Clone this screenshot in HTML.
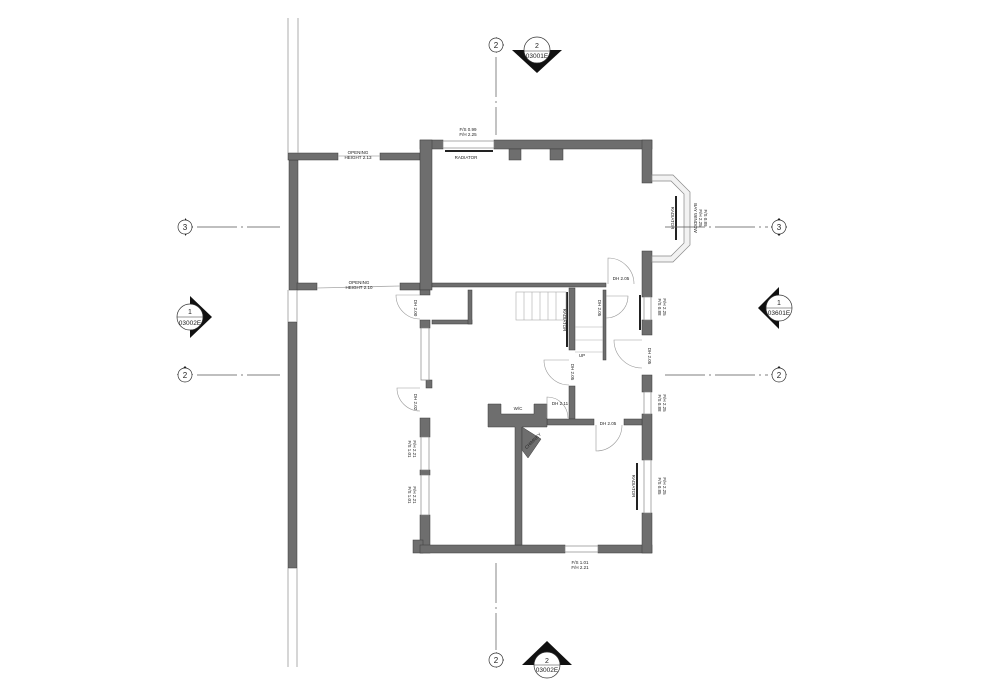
<!DOCTYPE html>
<html><head><meta charset="utf-8"><style>
html,body{margin:0;padding:0;background:#fff;width:1000px;height:690px;overflow:hidden}
svg{display:block}
text{font-family:"Liberation Sans",sans-serif;fill:#222}
</style></head><body>
<svg width="1000" height="690" viewBox="0 0 1000 690" xmlns="http://www.w3.org/2000/svg">
<g fill="#6e6e6e" stroke="#3a3a3a" stroke-width="0.5">
<rect x="289" y="160" width="9" height="130"/>
<rect x="288" y="322" width="9" height="246"/>
<rect x="288" y="153" width="50" height="7"/>
<rect x="380" y="153" width="40" height="7"/>
<rect x="297" y="283" width="20" height="7"/>
<rect x="400" y="283" width="20" height="7"/>
<rect x="420" y="140" width="23" height="9"/>
<rect x="494" y="140" width="158" height="9"/>
<rect x="420" y="140" width="12" height="150"/>
<rect x="509" y="149" width="12" height="11"/>
<rect x="550" y="149" width="13" height="11"/>
<rect x="642" y="140" width="10" height="43"/>
<rect x="642" y="251" width="10" height="46"/>
<rect x="432" y="283" width="174" height="4"/>
<rect x="420" y="290" width="10" height="5"/>
<rect x="420" y="320" width="10" height="8"/>
<rect x="426" y="380" width="6" height="8"/>
<rect x="420" y="418" width="10" height="19"/>
<rect x="420" y="470" width="10" height="5"/>
<rect x="420" y="515" width="10" height="38"/>
<rect x="413" y="540" width="10" height="13"/>
<rect x="420" y="545" width="145" height="8"/>
<rect x="598" y="545" width="54" height="8"/>
<rect x="642" y="320" width="10" height="15"/>
<rect x="642" y="375" width="10" height="17"/>
<rect x="642" y="414" width="10" height="46"/>
<rect x="642" y="513" width="10" height="40"/>
<rect x="432" y="320" width="40" height="4"/>
<rect x="468" y="290" width="4" height="34"/>
<rect x="569" y="288" width="6" height="62"/>
<rect x="569" y="386" width="6" height="33"/>
<rect x="603" y="290" width="3" height="70"/>
<rect x="547" y="419" width="47" height="6"/>
<rect x="624" y="419" width="18" height="6"/>
<path d="M488 404 H501 V414 H534 V404 H547 V427 H522 V545 H515 V427 H488 Z"/>
<path d="M522 427 L541 439 L528 458 L522 450 Z"/>
</g>
<g stroke="#999" stroke-width="0.8" fill="none">
<line x1="288" y1="18" x2="288" y2="153"/><line x1="298" y1="18" x2="298" y2="153"/>
<line x1="288" y1="290" x2="288" y2="322"/><line x1="297" y1="290" x2="297" y2="322"/>
<line x1="288" y1="568" x2="288" y2="667"/><line x1="297" y1="568" x2="297" y2="667"/>
<line x1="317" y1="288" x2="400" y2="286" stroke="#aaa"/>
<line x1="338" y1="156" x2="380" y2="156" stroke="#aaa"/>
</g>
<g fill="#fff" stroke="#888" stroke-width="0.7">
<rect x="443" y="141" width="51" height="7"/>
<rect x="565" y="546" width="33" height="6"/>
<rect x="421" y="328" width="8" height="52"/>
<rect x="421" y="437" width="8" height="33"/>
<rect x="421" y="475" width="8" height="40"/>
<rect x="644" y="297" width="7" height="23"/>
<rect x="644" y="392" width="7" height="22"/>
<rect x="644" y="460" width="7" height="53"/>
<path d="M652 175 H673 L690 192 V245 L673 262 H652 V256 H671 L684 243 V194 L671 181 H652 Z" fill="#f2f2f2"/>
</g>
<g fill="#222">
<rect x="445" y="150" width="48" height="2"/>
<rect x="675" y="196" width="2" height="44"/>
<rect x="566" y="292" width="2" height="55"/>
<rect x="636" y="463" width="2" height="47"/>
<rect x="639" y="295" width="2" height="35"/>
</g>
<g stroke="#aaa" stroke-width="0.6" fill="none">
<rect x="516" y="292" width="50" height="28"/>
<line x1="524" y1="292" x2="524" y2="320"/><line x1="532" y1="292" x2="532" y2="320"/>
<line x1="540" y1="292" x2="540" y2="320"/><line x1="548" y1="292" x2="548" y2="320"/><line x1="556" y1="292" x2="556" y2="320"/>
<line x1="575" y1="327" x2="603" y2="327"/><line x1="575" y1="340" x2="603" y2="340"/><line x1="575" y1="352" x2="603" y2="352"/>
</g>
<g stroke="#999" stroke-width="0.6" fill="none">
<path d="M608 284 V258 A26 26 0 0 1 634 284"/>
<path d="M420 295 H396 A24 24 0 0 0 420 319"/>
<path d="M420 388 H397 A23 23 0 0 0 420 411"/>
<path d="M606 296 H628 A22 22 0 0 1 606 318"/>
<path d="M642 340 H614 A28 28 0 0 0 642 368"/>
<path d="M569 360 H544 A25 25 0 0 0 569 385"/>
<path d="M547 418 V397 A21 21 0 0 1 568 418"/>
<path d="M596 425 V451 A26 26 0 0 0 622 425"/>
</g>
<g stroke="#555" stroke-width="0.7" stroke-dasharray="40 4 2 4">
<line x1="197" y1="227" x2="280" y2="227"/>
<line x1="665" y1="227" x2="768" y2="227"/>
<line x1="197" y1="375" x2="280" y2="375"/>
<line x1="665" y1="375" x2="768" y2="375"/>
<line x1="496" y1="57" x2="496" y2="135"/>
<line x1="496" y1="563" x2="496" y2="650"/>
</g>
<g font-size="8" text-anchor="middle">
<g><path d="M185 218 L193 227 L185 236 Z" fill="#111"/><circle cx="185" cy="227" r="7" fill="#fff" stroke="#333" stroke-width="0.7"/><text x="185" y="230">3</text></g>
<g><path d="M779 218 L771 227 L779 236 Z" fill="#111"/><path d="M779 218 L787 227 L779 236 Z" fill="#111"/><circle cx="779" cy="227" r="7" fill="#fff" stroke="#333" stroke-width="0.7"/><text x="779" y="230">3</text></g>
<g><path d="M177 375 L185 366 L193 375 Z" fill="#111"/><circle cx="185" cy="375" r="7" fill="#fff" stroke="#333" stroke-width="0.7"/><text x="185" y="378">2</text></g>
<g><path d="M771 375 L779 366 L787 375 Z" fill="#111"/><circle cx="779" cy="375" r="7" fill="#fff" stroke="#333" stroke-width="0.7"/><text x="779" y="378">2</text></g>
<g><path d="M496 37 L504 45 L496 53 Z" fill="#111"/><circle cx="496" cy="45" r="7" fill="#fff" stroke="#333" stroke-width="0.7"/><text x="496" y="48">2</text></g>
<g><path d="M496 652 L504 660 L496 668 Z" fill="#111"/><circle cx="496" cy="660" r="7" fill="#fff" stroke="#333" stroke-width="0.7"/><text x="496" y="663">2</text></g>
</g>
<g font-size="7" text-anchor="middle">
<g><path d="M512 50 L562 50 L537 73 Z" fill="#111"/><circle cx="537" cy="50" r="13" fill="#fff" stroke="#333" stroke-width="0.7"/><line x1="524" y1="51" x2="550" y2="51" stroke="#333" stroke-width="0.6"/><text x="537" y="48">2</text><text x="537" y="58" font-size="6.5">03001E</text></g>
<g><path d="M522 665 L572 665 L547 641 Z" fill="#111"/><circle cx="547" cy="665" r="13" fill="#fff" stroke="#333" stroke-width="0.7"/><line x1="534" y1="665" x2="560" y2="665" stroke="#333" stroke-width="0.6"/><text x="547" y="663">2</text><text x="547" y="672" font-size="6.5">03002E</text></g>
<g><path d="M190 296 L212 317 L190 338 Z" fill="#111"/><circle cx="190" cy="317" r="13" fill="#fff" stroke="#333" stroke-width="0.7"/><line x1="177" y1="317" x2="203" y2="317" stroke="#333" stroke-width="0.6"/><text x="190" y="314">1</text><text x="190" y="325" font-size="6.5">03002E</text></g>
<g><path d="M779 287 L758 308 L779 329 Z" fill="#111"/><circle cx="779" cy="308" r="13" fill="#fff" stroke="#333" stroke-width="0.7"/><line x1="766" y1="308" x2="792" y2="308" stroke="#333" stroke-width="0.6"/><text x="779" y="305">1</text><text x="779" y="315" font-size="6.5">03601E</text></g>
</g>
<g font-size="4.5" text-anchor="middle">
<text x="468" y="131">F/S 0.99</text><text x="468" y="136">F/H 2.25</text>
<text x="466" y="159">RADIATOR</text>
<text x="358" y="154">OPENING</text><text x="358" y="159">HEIGHT 2.13</text>
<text x="359" y="284">OPENING</text><text x="359" y="289">HEIGHT 2.10</text>
<text x="621" y="280">DH 2.05</text>
<text x="518" y="410">W/C</text>
<text x="608" y="425">DH 2.05</text>
<text x="560" y="405">DH 2.11</text>
<text x="582" y="357">UP</text>
<text x="580" y="564">F/S 1.01</text><text x="580" y="569">F/H 2.21</text>
<g transform="translate(414,308) rotate(90)"><text>DH 2.00</text></g>
<g transform="translate(414,402) rotate(90)"><text>DH 2.02</text></g>
<g transform="translate(408,449) rotate(90)"><text>F/S 1.01</text></g>
<g transform="translate(413,449) rotate(90)"><text>F/H 2.21</text></g>
<g transform="translate(408,495) rotate(90)"><text>F/S 1.01</text></g>
<g transform="translate(413,495) rotate(90)"><text>F/H 2.21</text></g>
<g transform="translate(598,308) rotate(90)"><text>DH 2.05</text></g>
<g transform="translate(571,372) rotate(90)"><text>DH 2.05</text></g>
<g transform="translate(648,356) rotate(90)"><text>DH 2.05</text></g>
<g transform="translate(658,307) rotate(90)"><text>F/S 0.88</text></g>
<g transform="translate(663,307) rotate(90)"><text>F/H 2.25</text></g>
<g transform="translate(658,403) rotate(90)"><text>F/S 0.88</text></g>
<g transform="translate(663,403) rotate(90)"><text>F/H 2.25</text></g>
<g transform="translate(658,486) rotate(90)"><text>F/S 0.85</text></g>
<g transform="translate(663,486) rotate(90)"><text>F/H 2.25</text></g>
<g transform="translate(632,486) rotate(90)"><text>RADIATOR</text></g>
<g transform="translate(671,218) rotate(90)"><text>RADIATOR</text></g>
<g transform="translate(694,218) rotate(90)"><text>BAY WINDOW</text></g>
<g transform="translate(699,218) rotate(90)"><text>F/H 2.25</text></g>
<g transform="translate(704,218) rotate(90)"><text>F/S 0.89</text></g>
<g transform="translate(563,320) rotate(90)"><text>RADIATOR</text></g>
<g transform="translate(534,442) rotate(-45)"><text>CHIMNEY</text></g>
</g>
</svg>
</body></html>
